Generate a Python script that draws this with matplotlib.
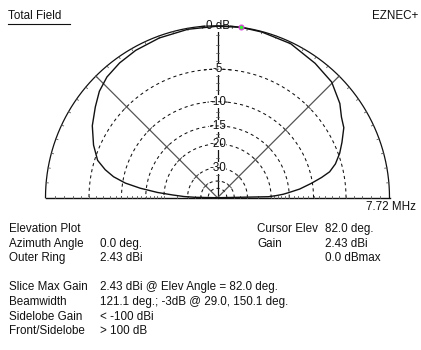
import numpy as np
import matplotlib
matplotlib.use("Agg")
import matplotlib.pyplot as plt

plt.rcParams['font.family'] = ['Liberation Sans', 'DejaVu Sans']

# elevation pattern, dB relative to max (2.43 dBi)
elev_deg = [0, 1.1, 2, 3, 4, 6, 8.7, 11, 13, 16, 20, 24, 29, 33, 37.6, 45.4, 54,
            64.6, 75, 82, 90, 100, 110, 119, 126, 132.5, 138, 143.4, 150.1, 157,
            162.7, 166, 168.6, 171, 173, 175, 176.5, 178, 179, 180]
rel_db = [-99, -20.9, -18.5, -16.5, -15.2, -12.6, -10.2, -8.3, -6.9, -5.8, -4.8,
          -4.0, -3.0, -2.6, -1.85, -0.97, -0.6, -0.15, -0.05, 0.0, -0.05, -0.1,
          -0.2, -0.35, -0.55, -0.85, -1.35, -2.1, -3.0, -4.2, -5.4, -6.8, -8.3,
          -10.5, -13.6, -18, -23, -28, -35, -99]

ring_db = [-5, -10, -15, -20, -30, -40, -50]
ring_labels = ['-5', '-10', '-15', '-20', '-30']
cursor_elev = 82.0
cursor_db = 0.0

left_labels = ['Elevation Plot', 'Azimuth Angle', 'Outer Ring', '',
               'Slice Max Gain', 'Beamwidth', 'Sidelobe Gain', 'Front/Sidelobe']
left_values = ['', '0.0 deg.', '2.43 dBi', '',
               '2.43 dBi @ Elev Angle = 82.0 deg.',
               '121.1 deg.; -3dB @ 29.0, 150.1 deg.',
               '< -100 dBi', '> 100 dB']
right_labels = ['Cursor Elev', 'Gain', '']
right_values = ['82.0 deg.', '2.43 dBi', '0.0 dBmax']

cx, cy, R = 217.5, 197.7, 172.0


def arrl(db):
    # ARRL log scale: 0.89 per 2 dB
    return R * 0.89 ** (-np.asarray(db, dtype=float) / 2.0)


def xy(th_deg, r):
    th = np.radians(th_deg)
    return cx + r * np.cos(th), cy - r * np.sin(th)


fig = plt.figure(figsize=(4.21, 3.5), dpi=100)
ax = fig.add_axes([0, 0, 1, 1])
ax.set_xlim(0, 421)
ax.set_ylim(350, 0)
ax.axis('off')

ink = '#111111'
grey = '#555555'
t = np.linspace(0, 180, 361)

# outer ring and baseline
ox, oy = xy(t, R)
ax.plot(ox, oy, color=ink, lw=0.9, zorder=3)
ax.plot([cx - R, cx + R], [cy, cy], color=ink, lw=1.0, zorder=3)

# ticks on outer ring every 5 deg
for a in range(5, 180, 5):
    x0, y0 = xy(a, R)
    x1, y1 = xy(a, R - 2.2)
    ax.plot([x0, x1], [y0, y1], color=grey, lw=0.6, zorder=3)

# dashed rings
for d in ring_db:
    rx, ry = xy(t, arrl(d))
    ax.plot(rx, ry, color=ink, lw=0.75, ls=(0, (3, 3)), zorder=3)

# ticks along baseline and vertical axis, one per dB
tick_db = list(range(-1, -21, -1)) + [-25, -30, -35, -40]
for d in tick_db:
    r = arrl(d)
    for s in (-1, 1):
        ax.plot([cx + s * r, cx + s * r], [cy, cy - 2.2], color=grey, lw=0.6, zorder=3)
    ax.plot([cx - 1.2, cx + 1.2], [cy - r, cy - r], color=grey, lw=0.5, zorder=3)

# vertical axis
ax.plot([cx, cx], [cy, cy - R], color=ink, lw=0.9, zorder=2)

# 45 / 135 deg reference lines with crossing marks at rings
for a in (45, 135):
    lx, ly = xy([a, a], [0, R])
    ax.plot(lx, ly, color=grey, lw=0.9, zorder=3)
    for d in ring_db[:6]:
        r = arrl(d)
        px, py = xy(a, r)
        nx, ny = np.cos(np.radians(a + 90)), -np.sin(np.radians(a + 90))
        ax.plot([px - 3 * nx, px + 3 * nx], [py - 3 * ny, py + 3 * ny],
                color=grey, lw=0.7, zorder=3)

fs = 8.4

# ring labels on the vertical axis
lab_kw = dict(ha='center', va='center', fontsize=fs, color=ink, zorder=4)
ax.text(cx, cy - R, '0 dB', bbox=dict(fc='white', ec='none', pad=0.2), **lab_kw)
for d, lab in zip(ring_db, ring_labels):
    ax.text(cx, cy - arrl(d), lab, bbox=dict(fc='white', ec='none', pad=0.2), **lab_kw)
# redraw rings over label boxes so lines run through the text
for d in [0] + ring_db[:5]:
    r = arrl(d)
    tt = np.linspace(84, 96, 40)
    rx, ry = xy(tt, r)
    ax.plot(rx, ry, color=ink, lw=0.75, ls='-' if d == 0 else (0, (3, 3)), zorder=5)

# pattern
px, py = xy(elev_deg, arrl(rel_db))
ax.plot(px, py, color=ink, lw=1.0, zorder=6)

# cursor
cxp, cyp = xy(cursor_elev, arrl(cursor_db))
ax.plot(cxp, cyp, 'o', ms=3.5, mfc='#33ee33', mec='#dd33dd', mew=0.8, zorder=7)

# header texts
ax.text(8, 16, 'Total Field', fontsize=fs, va='center', ha='left', color=ink)
ax.plot([8, 70], [24, 24], color=ink, lw=0.8)
ax.text(418, 16, 'EZNEC+', fontsize=fs, va='center', ha='right', color=ink)
ax.text(416, 207, '7.72 MHz', fontsize=fs, va='center', ha='right', color=ink)

# info block
y0, dy = 229, 14.6
for i, (lab, val) in enumerate(zip(left_labels, left_values)):
    y = y0 + i * dy
    ax.text(9, y, lab, fontsize=fs, va='center', ha='left', color=ink)
    ax.text(100, y, val, fontsize=fs, va='center', ha='left', color=ink)
for i, (lab, val) in enumerate(zip(right_labels, right_values)):
    y = y0 + i * dy
    ax.text(257, y, lab, fontsize=fs, va='center', ha='left', color=ink)
    ax.text(325, y, val, fontsize=fs, va='center', ha='left', color=ink)

fig.savefig('out.png', dpi=100, facecolor='white')
